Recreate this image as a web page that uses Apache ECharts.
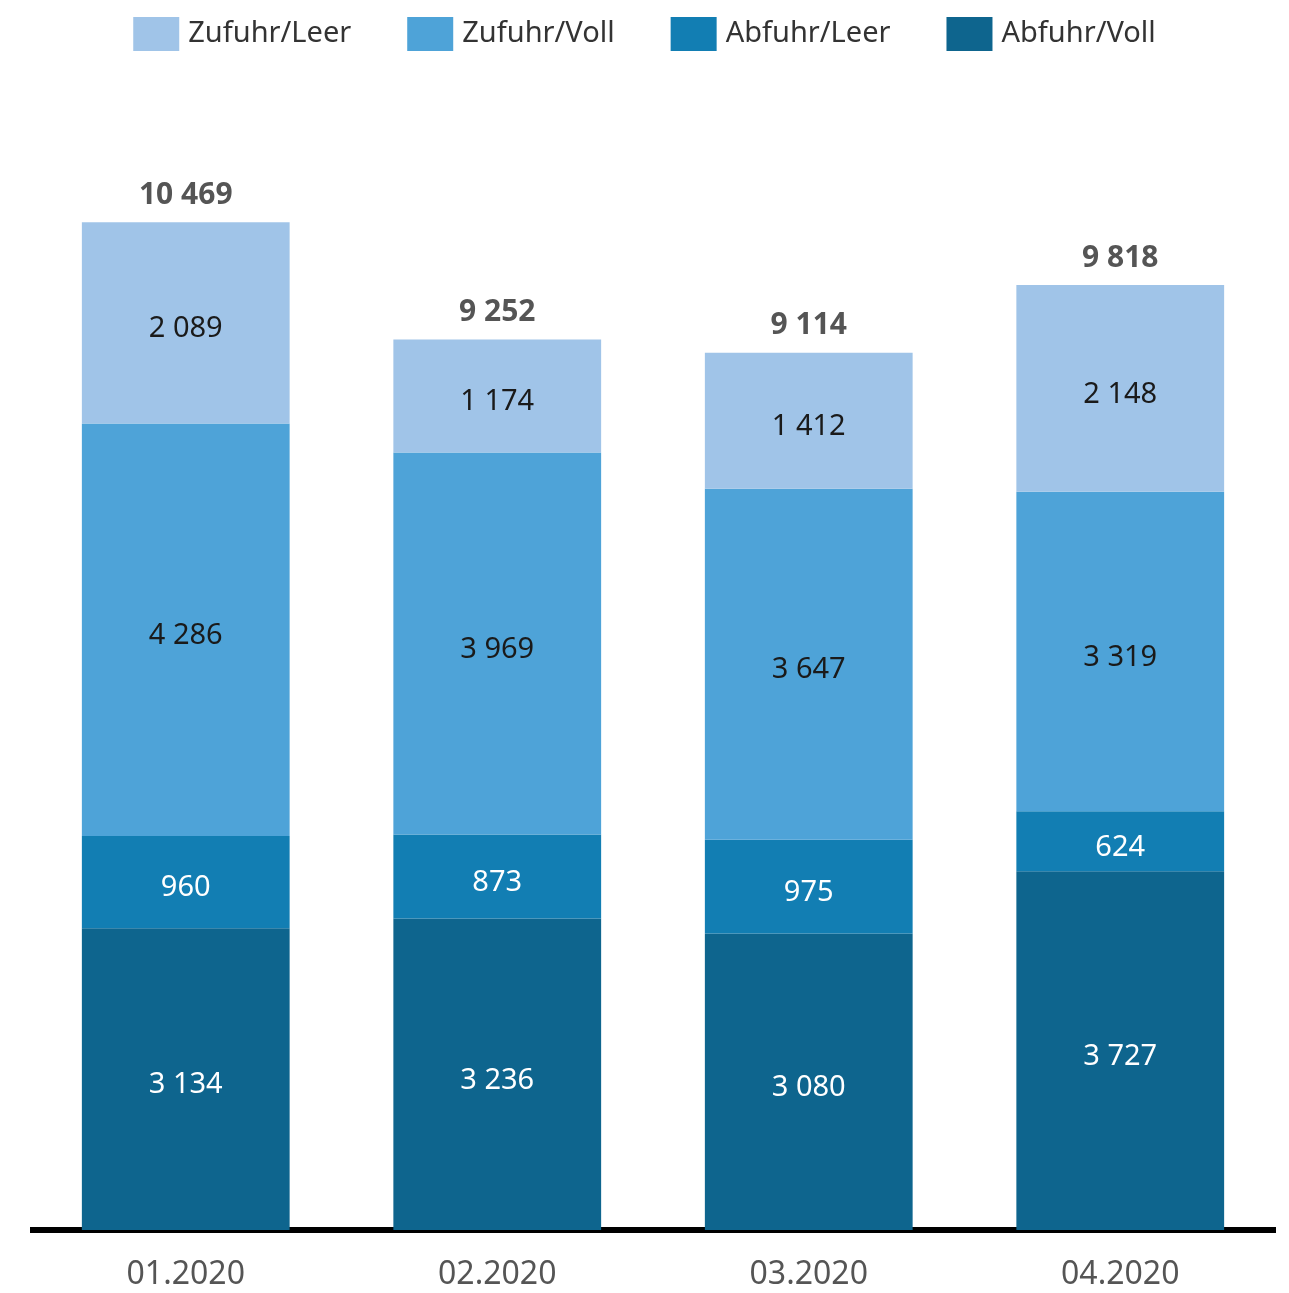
<!DOCTYPE html>
<html><head><meta charset="utf-8">
<script src="https://cdn.jsdelivr.net/npm/echarts@6/dist/echarts.min.js"></script>
<style>html,body{margin:0;padding:0;background:#fff}#c{width:1289px;height:1293px}</style>
</head><body><div id="c"></div>
<script>
const categories = ['01.2020','02.2020','03.2020','04.2020'];
const abfuhrVoll = [3134,3236,3080,3727];
const abfuhrLeer = [960,873,975,624];
const zufuhrVoll = [4286,3969,3647,3319];
const zufuhrLeer = [2089,1174,1412,2148];
const totals = [10469,9252,9114,9818];

const fmt = v => String(v).replace(/\B(?=(\d{3})+(?!\d))/g,' ');
const font = '"Noto Sans", sans-serif';
function s(name, data, color, txt){
  return {name, type:'bar', stack:'a', data, barWidth:'66.7%',
    itemStyle:{color},
    label:{show:true, position:'inside', offset:[0,6], color:txt, fontSize:29, fontFamily:font,
      formatter:p=>fmt(p.value)}};
}
const chart = echarts.init(document.getElementById('c'));
chart.setOption({
  animation:false,
  legend:{top:12, left:'center', icon:'rect', itemWidth:46, itemHeight:34, itemGap:56,
    textStyle:{fontSize:29, color:'#333', fontFamily:font, padding:[0,0,0,4]},
    data:['Zufuhr/Leer','Zufuhr/Voll','Abfuhr/Leer','Abfuhr/Voll']},
  grid:{left:30, right:13, top:75, bottom:63},
  xAxis:{type:'category', data:categories,
    axisLine:{lineStyle:{color:'#000', width:6, cap:'butt'}}, axisTick:{show:false},
    axisLabel:{fontSize:32, color:'#555', fontFamily:font, margin:29}},
  yAxis:{type:'value', min:0, max:12000, show:false, splitLine:{show:false}},
  series:[
    s('Abfuhr/Voll', abfuhrVoll, '#0e658e', '#fff'),
    s('Abfuhr/Leer', abfuhrLeer, '#127eb3', '#fff'),
    s('Zufuhr/Voll', zufuhrVoll, '#4ea3d8', '#1a1a1a'),
    s('Zufuhr/Leer', zufuhrLeer, '#a0c4e8', '#1a1a1a'),
    {name:'total', type:'bar', stack:'a', data:totals.map(()=>0), barWidth:'66.7%',
      itemStyle:{color:'transparent'},
      label:{show:true, position:'top', distance:12, fontSize:30, fontWeight:'bold',
        color:'#555', fontFamily:font, formatter:p=>fmt(totals[p.dataIndex])}}
  ]
});
</script></body></html>
